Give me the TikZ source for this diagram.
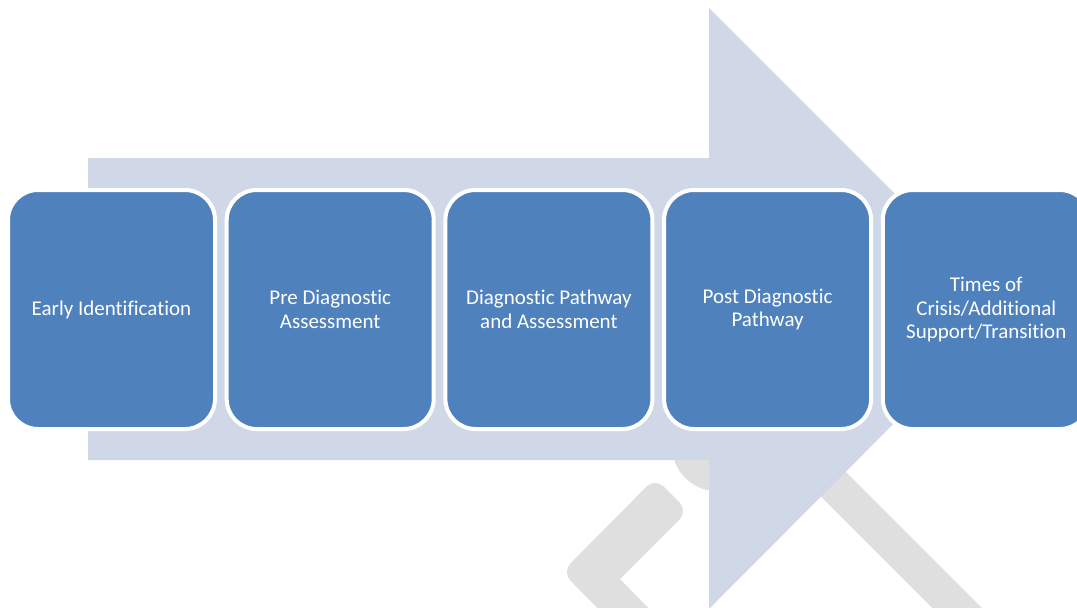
\documentclass[tikz,border=0pt]{standalone}
\usepackage{fontspec}
\setmainfont{Carlito}[Ligatures=NoCommon]
\definecolor{boxblue}{HTML}{4F81BD}
\definecolor{arrowfill}{HTML}{D0D8E8}
\definecolor{wmgrey}{HTML}{DFDFDF}
\tikzset{
  stagebox/.style={rectangle, rounded corners=30pt, fill=boxblue, draw=white,
    line width=4pt, minimum width=207pt, minimum height=239pt, inner sep=2pt,
    text=white, align=center, font=\fontsize{21}{23.5}\selectfont},
  wm/.style={fill=wmgrey, draw=none},
  bigarrow/.style={fill=arrowfill, draw=none}
}
\begin{document}
\begin{tikzpicture}[x=1pt, y=-1pt]
\useasboundingbox (0,0) rectangle (1077,608);
\clip (0,0) rectangle (1077,608);
% watermark shapes
\fill[wm, rounded corners=12pt] (609,620) -- (562,572) -- (655,478) -- (688,511) [sharp corners] -- (620,579) -- (660,620) -- cycle;
\draw[wmgrey, line width=35pt] (700,351) coordinate (wmA) -- (1000,651) coordinate (wmB);
\fill[wm, rounded corners=25pt] (660,420) -- (684,487) -- (730,493) -- (730,420) -- cycle;
% big arrow
\fill[bigarrow] (88,158) -- (709,158) -- (709,8) -- (1009,308) -- (709,609) -- (709,460) -- (88,460) -- cycle;
% stages
\node[stagebox] (s1) at (111.5,309.5) {Early Identification};
\node[stagebox] (s2) at (330.2,309.5) {Pre Diagnostic\\Assessment};
\node[stagebox] (s3) at (548.9,309.5) {Diagnostic Pathway\\and Assessment};
\node[stagebox] (s4) at (767.6,309.5) {Post Diagnostic\\Pathway};
\node[stagebox] (s5) at (986.3,309.5) {Times of\\Crisis/Additional\\Support/Transition};
\end{tikzpicture}
\end{document}
